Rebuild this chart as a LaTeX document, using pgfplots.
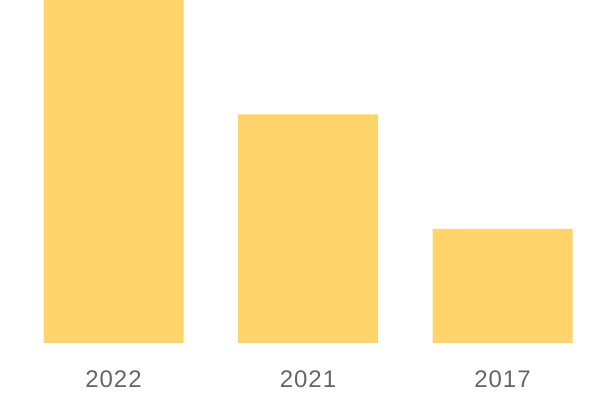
\documentclass[border=0pt]{standalone}
\usepackage{fontspec}
\setmainfont{Liberation Sans}
\newfontfamily\labfont[LetterSpace=4]{Liberation Sans}
\usepackage{pgfplots}
\pgfplotsset{compat=1.18}
\definecolor{barc}{HTML}{FED46B}
\definecolor{labc}{HTML}{666666}
\begin{document}
\begin{tikzpicture}
\begin{axis}[
  scale only axis,
  width=600bp, height=400bp,
  xmin=-0.5835, xmax=2.501,
  ymin=-0.4985, ymax=3,
  ybar, bar width=140bp,
  axis line style={draw=none},
  major tick length=0pt,
  ytick=\empty,
  xtick={0,1,2},
  xticklabels={2022,2021,2017},
  xticklabel style={anchor=base, yshift=13bp, font=\fontsize{24bp}{28bp}\labfont, text=labc},
]
\addplot[fill=barc, draw=none, bar shift=0pt] coordinates {(0,3) (1,2) (2,1)};
\end{axis}
\end{tikzpicture}
\end{document}
